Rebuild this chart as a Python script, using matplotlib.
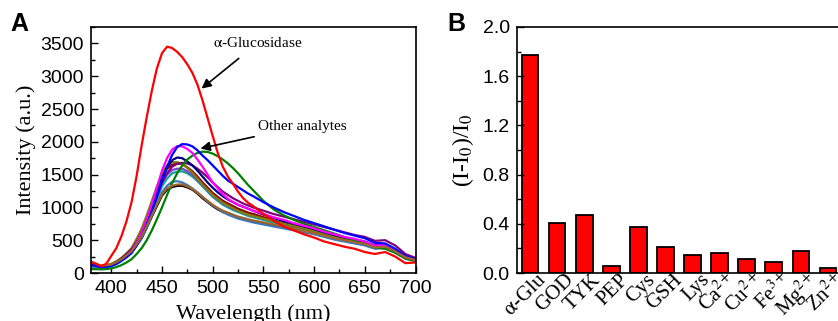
import matplotlib
matplotlib.use("Agg")
import matplotlib.pyplot as plt
import matplotlib.transforms as mtransforms
from matplotlib.ticker import MultipleLocator, FormatStrFormatter

plt.rcParams['font.family'] = ['Liberation Sans', 'DejaVu Sans']
plt.rcParams['mathtext.fontset'] = 'stix'

# ---------------- Data ----------------
wavelength = [380, 385, 390, 395, 400, 405, 410, 415, 420, 425, 430, 435, 440,
              445, 450, 455, 460, 465, 470, 475, 480, 485, 490, 495, 500, 505,
              510, 515, 520, 525, 530, 535, 540,
              550, 560, 570, 580, 590, 600, 610, 620, 630, 640, 650, 660, 670,
              680, 690, 700]

glucosidase = [170, 140, 105, 140, 260, 380, 560, 790, 1080, 1480, 1950, 2380, 2780,
               3120, 3350, 3450, 3430, 3370, 3290, 3180, 3050, 2870, 2630, 2360, 2090, 1830,
               1620, 1470, 1360, 1240, 1140, 1070, 1020,
               900, 800, 710, 650, 590, 540, 480, 440, 400, 370, 320, 290, 320,
               250, 150, 160]

other_blue = [130, 110, 90, 95, 110, 140, 190, 240, 310, 420, 560, 740, 940,
              1160, 1400, 1620, 1800, 1920, 1965, 1960, 1930, 1870, 1790, 1720, 1640, 1560,
              1480, 1410, 1360, 1310, 1260, 1210, 1170,
              1080, 1000, 930, 870, 810, 760, 710, 660, 610, 570, 530, 460, 450,
              370, 260, 210]
other_magenta = [150, 125, 100, 105, 120, 150, 200, 260, 340, 460, 620, 820, 1050,
                 1300, 1560, 1750, 1880, 1935, 1930, 1890, 1830, 1730, 1620, 1500, 1380, 1290,
                 1200, 1130, 1080, 1040, 1010, 980, 950,
                 900, 850, 810, 760, 720, 680, 630, 590, 550, 520, 480, 420, 430,
                 340, 240, 200]
other_green = [60, 58, 55, 60, 70, 90, 120, 160, 210, 290, 380, 500, 650,
               820, 1000, 1190, 1370, 1520, 1640, 1730, 1790, 1830, 1850, 1845, 1820, 1780,
               1730, 1670, 1600, 1520, 1430, 1340, 1260,
               1100, 970, 880, 810, 750, 700, 650, 600, 550, 500, 450, 390, 370,
               310, 220, 180]
other_navy = [140, 118, 95, 105, 120, 160, 210, 270, 340, 460, 600, 790, 1000,
              1230, 1450, 1610, 1720, 1760, 1750, 1700, 1640, 1560, 1470, 1380, 1300, 1230,
              1170, 1120, 1080, 1040, 1010, 980, 950,
              890, 840, 790, 750, 710, 670, 620, 580, 540, 510, 480, 420, 430,
              350, 240, 200]
other_olive = [160, 135, 110, 120, 140, 180, 230, 300, 380, 520, 680, 880, 1100,
               1320, 1520, 1640, 1690, 1690, 1660, 1600, 1530, 1440, 1350, 1270, 1190, 1130,
               1070, 1030, 990, 950, 920, 890, 870,
               830, 790, 750, 720, 680, 640, 600, 560, 520, 490, 460, 410, 420,
               340, 240, 200]
other_wine = [150, 128, 105, 115, 130, 170, 220, 280, 350, 490, 640, 830, 1040,
              1260, 1460, 1590, 1650, 1670, 1660, 1610, 1550, 1470, 1380, 1300, 1220, 1160,
              1100, 1060, 1020, 980, 950, 920, 900,
              850, 800, 760, 720, 690, 650, 610, 570, 530, 500, 470, 420, 430,
              350, 240, 200]
other_purple = [120, 105, 90, 100, 120, 160, 220, 290, 360, 470, 600, 780, 980,
                1180, 1380, 1520, 1620, 1665, 1680, 1670, 1640, 1590, 1530, 1460, 1380, 1310,
                1240, 1190, 1140, 1100, 1060, 1030, 1000,
                950, 900, 860, 820, 780, 740, 700, 660, 620, 580, 550, 490, 500,
                420, 290, 230]
other_violet = [140, 118, 95, 102, 115, 150, 200, 260, 320, 440, 580, 760, 960,
                1170, 1380, 1500, 1570, 1590, 1590, 1550, 1500, 1420, 1340, 1260, 1180, 1120,
                1060, 1020, 980, 950, 920, 890, 870,
                830, 790, 750, 710, 680, 640, 600, 560, 520, 490, 460, 410, 420,
                340, 240, 190]
other_teal = [110, 98, 85, 95, 110, 145, 190, 250, 310, 430, 560, 730, 920,
              1120, 1320, 1440, 1520, 1545, 1550, 1520, 1470, 1400, 1320, 1240, 1160, 1100,
              1040, 1000, 960, 930, 900, 870, 850,
              810, 770, 740, 700, 670, 630, 590, 550, 510, 480, 450, 400, 410,
              330, 230, 190]
other_steel = [100, 90, 80, 88, 100, 135, 180, 240, 300, 420, 540, 700, 880,
               1060, 1230, 1330, 1390, 1400, 1380, 1340, 1290, 1230, 1160, 1090, 1030, 980,
               930, 890, 860, 830, 810, 790, 770,
               740, 710, 680, 650, 620, 590, 550, 510, 480, 450, 420, 370, 380,
               310, 220, 180]
other_black = [150, 125, 100, 108, 120, 155, 200, 250, 310, 420, 530, 690, 860,
               1020, 1180, 1270, 1310, 1328, 1330, 1305, 1270, 1210, 1140, 1080, 1020, 970,
               930, 900, 870, 840, 820, 805, 790,
               760, 730, 700, 670, 630, 600, 560, 520, 490, 460, 430, 380, 390,
               320, 230, 190]
other_brown = [170, 140, 110, 118, 130, 165, 210, 270, 330, 440, 560, 720, 880,
               1040, 1200, 1290, 1330, 1348, 1350, 1320, 1280, 1220, 1160, 1100, 1040, 990,
               950, 920, 890, 860, 840, 820, 800,
               770, 740, 710, 680, 640, 610, 570, 530, 500, 470, 440, 390, 400,
               330, 240, 200]

other_curves = [other_black, other_steel, other_teal, other_violet, other_wine,
                other_olive, other_purple, other_navy, other_green, other_magenta,
                other_blue, other_brown]
other_colors = ['#000000', '#3A78C0', '#12A0A0', '#8040D0', '#8B0000',
                '#808000', '#800080', '#000080', '#008000', '#FF00FF',
                '#0000FF', '#A0642A']

categories = [r'$\mathrm{\alpha}$-Glu', 'GOD', 'TYK', 'PEP', 'Cys', 'GSH', 'Lys',
              r'Ca$^{2+}$', r'Cu$^{2+}$', r'Fe$^{3+}$', r'Mg$^{2+}$', r'Zn$^{2+}$']
ratio = [1.77, 0.41, 0.47, 0.06, 0.37, 0.21, 0.15, 0.16, 0.11, 0.09, 0.18, 0.04]

# ---------------- Figure ----------------
W, H = 838, 321
fig = plt.figure(figsize=(W / 100, H / 100), dpi=100)

def px_axes(l, r, t, b):
    return fig.add_axes([l / W, (H - b) / H, (r - l) / W, (b - t) / H])

serif = ['Liberation Serif', 'DejaVu Serif']

# ---- Panel A ----
axA = px_axes(91, 415.5, 27, 273)
for ys, c in zip(other_curves, other_colors):
    axA.plot(wavelength, ys, color=c, lw=1.6)
axA.plot(wavelength, glucosidase, color='#FF0000', lw=1.6)
axA.set_xlim(380, 700)
axA.set_ylim(0, 3750)
axA.xaxis.set_major_locator(MultipleLocator(50))
axA.xaxis.set_minor_locator(MultipleLocator(25))
axA.yaxis.set_major_locator(MultipleLocator(500))
axA.yaxis.set_minor_locator(MultipleLocator(250))
axA.tick_params(which='both', direction='in', labelsize=14, pad=5, width=1)
axA.tick_params(which='major', length=5)
axA.tick_params(which='minor', length=3)
for s in axA.spines.values():
    s.set_linewidth(1.2)
axA.set_xlabel('Wavelength (nm)', family=serif, fontsize=16, labelpad=5)
axA.set_ylabel('Intensity (a.u.)', family=serif, fontsize=16, labelpad=3)

axA.annotate(r'$\mathrm{\alpha}$-Glucosidase', xy=(489, 2811), xytext=(544, 3500),
             ha='center', va='center', family=serif, fontsize=11,
             arrowprops=dict(arrowstyle='-|>', color='black', lw=1.2,
                             mutation_scale=14, shrinkA=6, shrinkB=0))
axA.annotate('Other analytes', xy=(488, 1898), xytext=(588, 2237),
             ha='center', va='center', family=serif, fontsize=11,
             arrowprops=dict(arrowstyle='-|>', color='black', lw=1.2,
                             mutation_scale=14, shrinkA=4, shrinkB=0))
fig.text(10 / W, 1 - 31 / H, 'A', fontsize=18, fontweight='bold', ha='left', va='baseline')

# ---- Panel B ----
axB = px_axes(516.7, 850, 27, 273)
xpos = list(range(len(categories)))
axB.bar(xpos, ratio, width=0.62, color='#FF0000', edgecolor='black', linewidth=1.3)
axB.set_xlim(-0.49, 11.81)
axB.set_ylim(0, 2.0)
axB.yaxis.set_major_locator(MultipleLocator(0.4))
axB.yaxis.set_minor_locator(MultipleLocator(0.2))
axB.yaxis.set_major_formatter(FormatStrFormatter('%.1f'))
axB.tick_params(axis='y', which='both', direction='in', labelsize=14, pad=5, width=1)
axB.tick_params(axis='y', which='major', length=5)
axB.tick_params(axis='y', which='minor', length=3)
axB.set_xticks(xpos)
axB.set_xticklabels(categories, rotation=45, ha='right', va='center',
                    rotation_mode='anchor', family=serif, fontsize=15)
axB.tick_params(axis='x', length=0, pad=3)
offset = mtransforms.ScaledTranslation(14 / 100, 0, fig.dpi_scale_trans)
for lab in axB.get_xticklabels():
    lab.set_transform(lab.get_transform() + offset)
axB.spines['right'].set_visible(False)
for s in axB.spines.values():
    s.set_linewidth(1.2)
axB.set_ylabel(r'(I-I$_0$)/I$_0$', family=serif, fontsize=17, labelpad=5)
fig.text(447 / W, 1 - 31 / H, 'B', fontsize=18, fontweight='bold', ha='left', va='baseline')

fig.savefig('out.png', dpi=100)
